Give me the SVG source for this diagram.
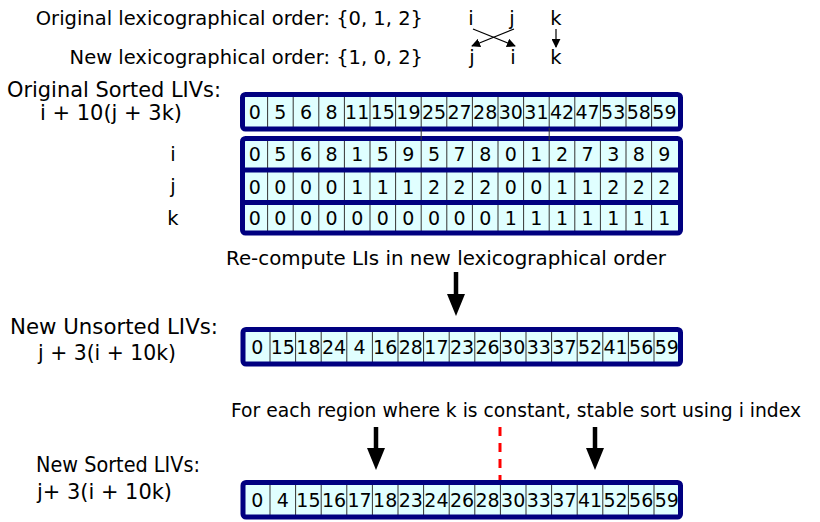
<svg xmlns="http://www.w3.org/2000/svg" width="820" height="522" viewBox="0 0 820 522">
<style>
text{font-family:"DejaVu Sans","Liberation Sans",sans-serif;font-size:19.5px;fill:#000}
.l{font-size:20.5px}
.c{font-size:19px;text-anchor:middle}
.m{text-anchor:middle}
.fill{fill:#e0ffff;stroke:none}
.div{stroke:#333;stroke-width:1;fill:none}
.bd{fill:none;stroke:#000080;stroke-width:5}
.sep{stroke:#000080;stroke-width:5}
.thin{stroke:#000;stroke-width:1.2;fill:none}
.big{stroke:#000;stroke-width:4.5;fill:none}
.dash{stroke:#f00;stroke-width:3;stroke-dasharray:9 7;fill:none}
</style>
<defs>
<marker id="ah" viewBox="0 0 10 10" refX="9" refY="5" markerWidth="9" markerHeight="9" markerUnits="userSpaceOnUse" orient="auto"><path d="M0,0 L10,5 L0,10 Z" fill="#000"/></marker>
<marker id="bh" viewBox="0 0 22 18" refX="0" refY="9" markerWidth="22" markerHeight="18" markerUnits="userSpaceOnUse" orient="auto"><path d="M0,0 L22,9 L0,18 Z" fill="#000"/></marker>
</defs>

<g id="header">
<text x="423" y="25" text-anchor="end">Original lexicographical order: {0, 1, 2}</text>
<text x="423" y="64" text-anchor="end">New lexicographical order: {1, 0, 2}</text>
<text class="m" x="471" y="25">i</text>
<text class="m" x="512" y="25">j</text>
<text class="m" x="556" y="25">k</text>
<text class="m" x="472" y="64">j</text>
<text class="m" x="513" y="64">i</text>
<text class="m" x="556" y="64">k</text>
</g>

<g id="labels">
<text class="l" x="7" y="97" textLength="214" lengthAdjust="spacingAndGlyphs">Original Sorted LIVs:</text>
<text class="l" x="40" y="120" textLength="142" lengthAdjust="spacingAndGlyphs">i + 10(j + 3k)</text>
<text class="m" x="173" y="161">i</text>
<text class="m" x="173" y="193">j</text>
<text class="m" x="173" y="225">k</text>
<text x="226" y="265" textLength="440" lengthAdjust="spacingAndGlyphs">Re-compute LIs in new lexicographical order</text>
<text class="l" x="10" y="334" textLength="208" lengthAdjust="spacingAndGlyphs">New Unsorted LIVs:</text>
<text class="l" x="38" y="360" textLength="138" lengthAdjust="spacingAndGlyphs">j + 3(i + 10k)</text>
<text x="231" y="417" style="font-size:18.6px" textLength="570" lengthAdjust="spacingAndGlyphs">For each region where k is constant, stable sort using i index</text>
<text class="l" x="36" y="472" textLength="164" lengthAdjust="spacingAndGlyphs">New Sorted LIVs:</text>
<text class="l" x="37" y="499" textLength="135" lengthAdjust="spacingAndGlyphs">j+ 3(i + 10k)</text>
</g>

<g id="box-original-sorted">
<rect class="fill" x="242" y="94" width="438" height="35"/>
<path class="div" d="M267.6,94V129M293.2,94V129M318.8,94V129M344.4,94V129M370,94V129M395.6,94V129M421.2,94V129M446.8,94V129M472.4,94V129M498,94V129M523.6,94V129M549.2,94V129M574.8,94V129M600.4,94V129M626,94V129M651.6,94V129"/>
<rect class="bd" x="242.5" y="94.5" width="438" height="34.5" rx="3"/>
<text class="c" y="118.5"><tspan x="254.8">0</tspan><tspan x="280.4">5</tspan><tspan x="306">6</tspan><tspan x="331.6">8</tspan><tspan x="357.2">11</tspan><tspan x="382.8">15</tspan><tspan x="408.4">19</tspan><tspan x="434">25</tspan><tspan x="459.6">27</tspan><tspan x="485.2">28</tspan><tspan x="510.8">30</tspan><tspan x="536.4">31</tspan><tspan x="562">42</tspan><tspan x="587.6">47</tspan><tspan x="613.2">53</tspan><tspan x="638.8">58</tspan><tspan x="664.4">59</tspan></text>
</g>

<g id="box-ijk">
<rect class="fill" x="242" y="138" width="438" height="96"/>
<path class="div" d="M267.6,138V234M293.2,138V234M318.8,138V234M344.4,138V234M370,138V234M395.6,138V234M421.2,138V234M446.8,138V234M472.4,138V234M498,138V234M523.6,138V234M549.2,138V234M574.8,138V234M600.4,138V234M626,138V234M651.6,138V234"/>
<line class="sep" x1="241" y1="170" x2="682" y2="170"/>
<line class="sep" x1="241" y1="202.5" x2="682" y2="202.5"/>
<rect class="bd" x="242.5" y="138.5" width="438" height="94.5" rx="3"/>
<text class="c" y="161"><tspan x="254.8">0</tspan><tspan x="280.4">5</tspan><tspan x="306">6</tspan><tspan x="331.6">8</tspan><tspan x="357.2">1</tspan><tspan x="382.8">5</tspan><tspan x="408.4">9</tspan><tspan x="434">5</tspan><tspan x="459.6">7</tspan><tspan x="485.2">8</tspan><tspan x="510.8">0</tspan><tspan x="536.4">1</tspan><tspan x="562">2</tspan><tspan x="587.6">7</tspan><tspan x="613.2">3</tspan><tspan x="638.8">8</tspan><tspan x="664.4">9</tspan></text>
<text class="c" y="193.5"><tspan x="254.8">0</tspan><tspan x="280.4">0</tspan><tspan x="306">0</tspan><tspan x="331.6">0</tspan><tspan x="357.2">1</tspan><tspan x="382.8">1</tspan><tspan x="408.4">1</tspan><tspan x="434">2</tspan><tspan x="459.6">2</tspan><tspan x="485.2">2</tspan><tspan x="510.8">0</tspan><tspan x="536.4">0</tspan><tspan x="562">1</tspan><tspan x="587.6">1</tspan><tspan x="613.2">2</tspan><tspan x="638.8">2</tspan><tspan x="664.4">2</tspan></text>
<text class="c" y="225"><tspan x="254.8">0</tspan><tspan x="280.4">0</tspan><tspan x="306">0</tspan><tspan x="331.6">0</tspan><tspan x="357.2">0</tspan><tspan x="382.8">0</tspan><tspan x="408.4">0</tspan><tspan x="434">0</tspan><tspan x="459.6">0</tspan><tspan x="485.2">0</tspan><tspan x="510.8">1</tspan><tspan x="536.4">1</tspan><tspan x="562">1</tspan><tspan x="587.6">1</tspan><tspan x="613.2">1</tspan><tspan x="638.8">1</tspan><tspan x="664.4">1</tspan></text>
</g>

<g id="box-new-unsorted">
<rect class="fill" x="243" y="329" width="437" height="35"/>
<path class="div" d="M270,329V364M295.6,329V364M321.2,329V364M346.8,329V364M372.4,329V364M398,329V364M423.6,329V364M449.2,329V364M474.8,329V364M500.4,329V364M526,329V364M551.6,329V364M577.2,329V364M602.8,329V364M628.4,329V364M654,329V364"/>
<rect class="bd" x="243" y="329.5" width="437.5" height="34.5" rx="3"/>
<text class="c" y="353.5"><tspan x="257.2">0</tspan><tspan x="282.8">15</tspan><tspan x="308.4">18</tspan><tspan x="334">24</tspan><tspan x="359.6">4</tspan><tspan x="385.2">16</tspan><tspan x="410.8">28</tspan><tspan x="436.4">17</tspan><tspan x="462">23</tspan><tspan x="487.6">26</tspan><tspan x="513.2">30</tspan><tspan x="538.8">33</tspan><tspan x="564.4">37</tspan><tspan x="590">52</tspan><tspan x="615.6">41</tspan><tspan x="641.2">56</tspan><tspan x="666.8">59</tspan></text>
</g>

<g id="box-new-sorted">
<rect class="fill" x="243" y="482" width="437" height="35"/>
<path class="div" d="M270,482V517M295.6,482V517M321.2,482V517M346.8,482V517M372.4,482V517M398,482V517M423.6,482V517M449.2,482V517M474.8,482V517M500.4,482V517M526,482V517M551.6,482V517M577.2,482V517M602.8,482V517M628.4,482V517M654,482V517"/>
<rect class="bd" x="243" y="482.5" width="437.5" height="34.5" rx="3"/>
<text class="c" y="506.5"><tspan x="257.2">0</tspan><tspan x="282.8">4</tspan><tspan x="308.4">15</tspan><tspan x="334">16</tspan><tspan x="359.6">17</tspan><tspan x="385.2">18</tspan><tspan x="410.8">23</tspan><tspan x="436.4">24</tspan><tspan x="462">26</tspan><tspan x="487.6">28</tspan><tspan x="513.2">30</tspan><tspan x="538.8">33</tspan><tspan x="564.4">37</tspan><tspan x="590">41</tspan><tspan x="615.6">52</tspan><tspan x="641.2">56</tspan><tspan x="666.8">59</tspan></text>
</g>

<g id="connectors">
<line class="thin" x1="473" y1="29" x2="515" y2="46" marker-end="url(#ah)"/>
<line class="thin" x1="514" y1="29" x2="472" y2="46" marker-end="url(#ah)"/>
<line class="thin" x1="556" y1="29" x2="556" y2="47" marker-end="url(#ah)"/>
<line class="div" x1="421.2" y1="128" x2="421.2" y2="140"/>
<line class="div" x1="549.2" y1="128" x2="549.2" y2="140"/>
<line class="big" x1="456" y1="272" x2="456" y2="294" marker-end="url(#bh)"/>
<line class="big" x1="376" y1="427" x2="376" y2="448" marker-end="url(#bh)"/>
<line class="big" x1="595" y1="427" x2="595" y2="448" marker-end="url(#bh)"/>
<line class="dash" x1="500" y1="427" x2="500" y2="480"/>
</g>
</svg>
